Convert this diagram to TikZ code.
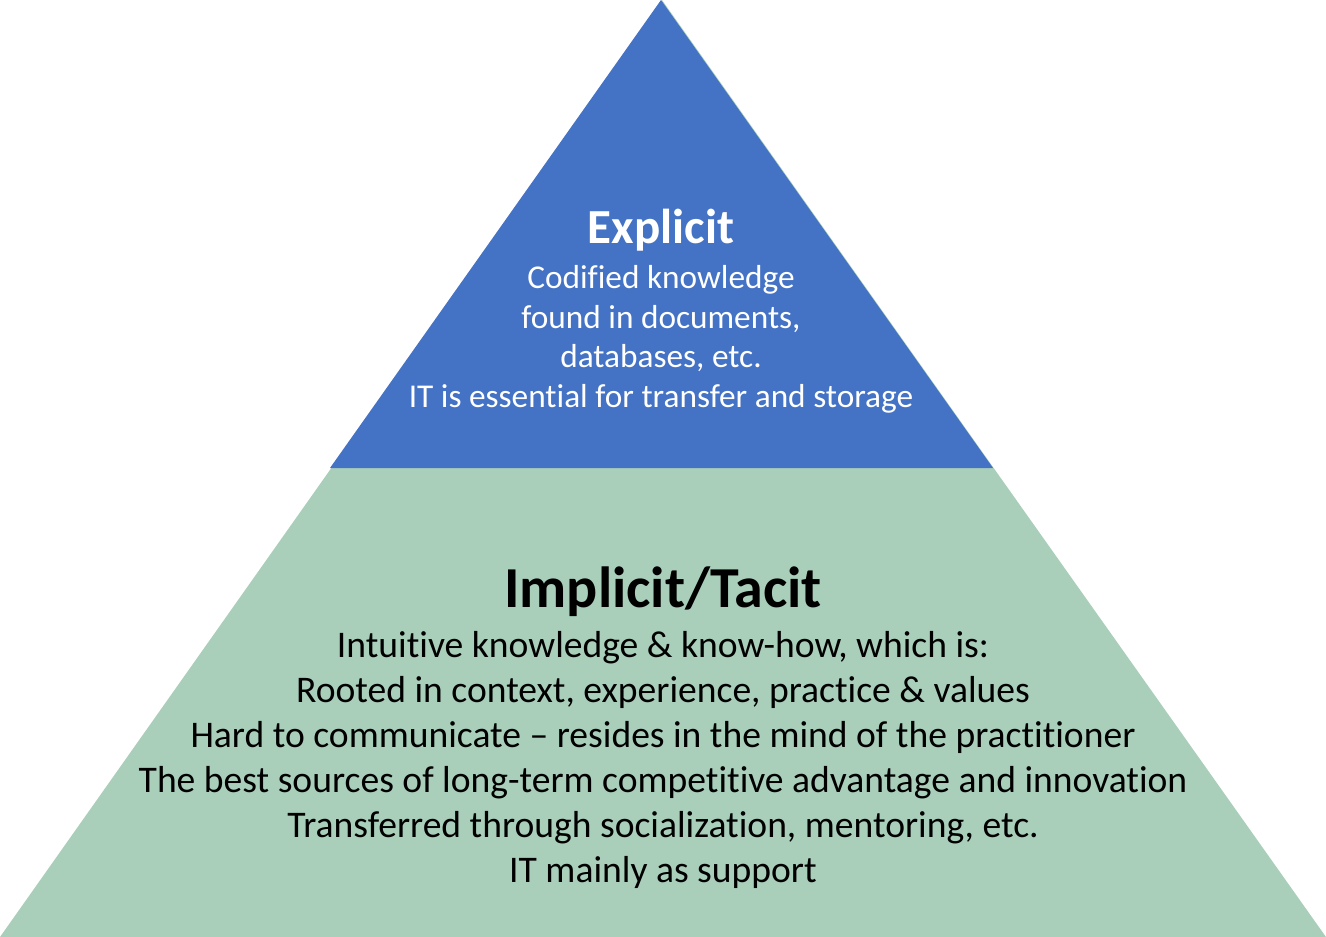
\documentclass[tikz,border=0pt]{standalone}
\usepackage{fontspec}
\setmainfont[Ligatures={NoCommon,NoContextual}]{Carlito}
\definecolor{topblue}{HTML}{4472C4}
\definecolor{basegreen}{HTML}{A9CFBB}
\begin{document}
\begin{tikzpicture}[x=1pt,y=-1pt,
  bodytxt/.style={anchor=base,inner sep=0pt,font=\fontsize{37.6}{44}\selectfont},
  toptxt/.style={anchor=base,inner sep=0pt,text=white,font=\fontsize{33.3}{40}\selectfont},
  toptitle/.style={anchor=base,inner sep=0pt,text=white,font=\fontsize{49}{58}\selectfont\bfseries},
  basetitle/.style={anchor=base,inner sep=0pt,font=\fontsize{58}{68}\selectfont\bfseries}]
\useasboundingbox (0,0) rectangle (1326,937);
% layers
\fill[basegreen] (662,0) -- (1326,937) -- (0,937) -- cycle;
\fill[topblue] (661,0) -- (993,468) -- (330,468) -- cycle;
% top text
\node[toptitle] (t0) at (661,243) {Explicit};
\node[toptxt] (t1) at (661,288) {Codified knowledge};
\node[toptxt] (t2) at (661,328) {found in documents,};
\node[toptxt] (t3) at (661,367.5) {databases, etc.};
\node[toptxt] (t4) at (661,407) {IT is essential for transfer and storage};
% bottom text
\node[basetitle] (b0) at (663,607.5) {Implicit/Tacit};
\node[bodytxt] (b1) at (663,657.5) {Intuitive knowledge \& know-how, which is:};
\node[bodytxt] (b2) at (663,702.5) {Rooted in context, experience, practice \& values};
\node[bodytxt] (b3) at (663,747.5) {Hard to communicate – resides in the mind of the practitioner};
\node[bodytxt] (b4) at (663,792.5) {The best sources of long-term competitive advantage and innovation};
\node[bodytxt] (b5) at (663,837.5) {Transferred through socialization, mentoring, etc.};
\node[bodytxt] (b6) at (663,882.5) {IT mainly as support};
\end{tikzpicture}
\end{document}
